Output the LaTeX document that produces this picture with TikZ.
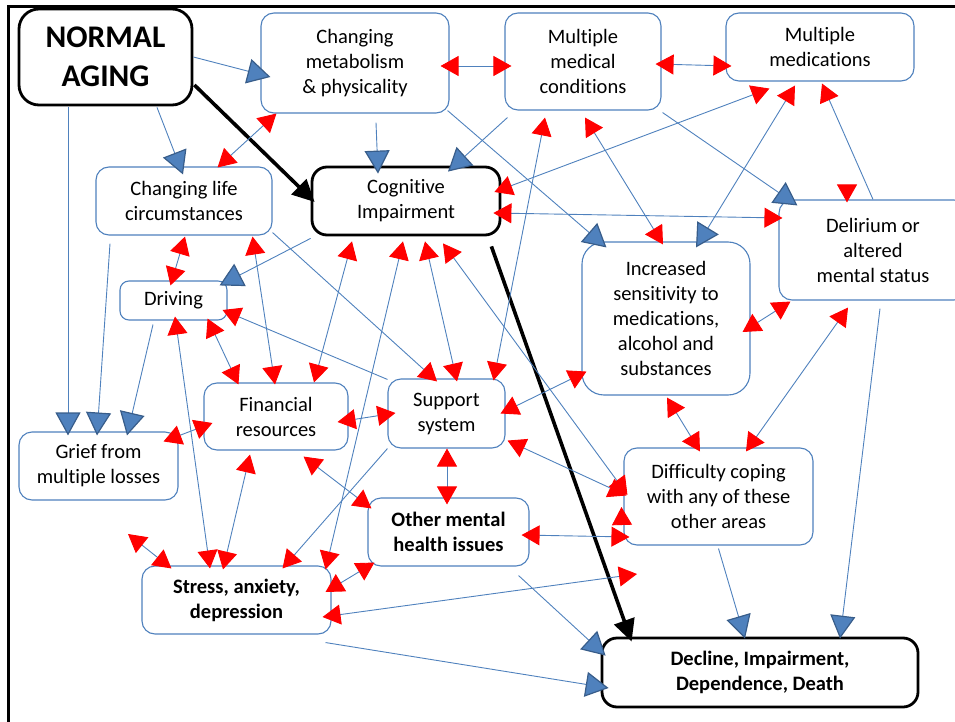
\documentclass[tikz,border=0pt]{standalone}
\usepackage{fontspec}
\setmainfont{Carlito}[Ligatures=NoCommon]
\usetikzlibrary{arrows.meta}
\definecolor{edgeblue}{HTML}{4F81BD}
\definecolor{tipedge}{HTML}{385D8A}
\newcommand\boxfont{\fontsize{20.5pt}{25pt}\selectfont}
\newcommand\agingfont{\fontsize{31.5pt}{39pt}\selectfont\bfseries}
\tikzset{
  factor/.style={draw=edgeblue, line width=1.1pt, rounded corners=13pt, fill=white,
    align=center, inner sep=0pt, font=\boxfont},
  keyfactor/.style={draw=black, line width=2.8pt, rounded corners=15pt, fill=white,
    align=center, inner sep=0pt, font=\boxfont},
  conn/.style={draw=edgeblue, line width=0.9pt},
  heavy/.style={draw=black, line width=3.6pt},
  redhead/.tip={Triangle[length=18pt,width=20pt,color=red]},
  bluehead/.tip={Triangle[length=23pt,width=25pt,fill=edgeblue,color=tipedge,line width=1.2pt]},
  blackhead/.tip={Triangle[length=22pt,width=21pt,color=black]}
}
\begin{document}
\begin{tikzpicture}[x=1pt,y=-1pt]
\useasboundingbox (0,0) rectangle (955,722);
\clip (0,0) rectangle (955,722);
% frame
\draw[line width=3pt] (8,722) -- (8,6.5) -- (955,6.5);

% boxes
\node[keyfactor, minimum width=173pt, minimum height=96pt, rounded corners=20pt, font=\agingfont] (aging) at (105.5,57) {NORMAL\\AGING};
\node[factor, minimum width=188pt, minimum height=100pt] (metab) at (355,63) {Changing\\metabolism\\\& physicality};
\node[factor, minimum width=156pt, minimum height=97pt] (medcond) at (583,61.5) {Multiple\\medical\\conditions};
\node[factor, minimum width=188pt, minimum height=68pt] (meds) at (820,47) {Multiple\\medications};
\node[factor, minimum width=176pt, minimum height=68pt] (life) at (184,201) {Changing life\\circumstances};
\node[keyfactor, minimum width=188pt, minimum height=68pt] (cog) at (406,201) {Cognitive\\Impairment};
\node[factor, minimum width=188pt, minimum height=100pt] (delir) at (873,250) {Delirium or\\altered\\mental status};
\node[factor, minimum width=107pt, minimum height=39pt, rounded corners=9pt] (drive) at (173.5,300.5) {Driving};
\node[factor, minimum width=168pt, minimum height=153pt, rounded corners=22pt] (sens) at (666,318.5) {Increased\\sensitivity to\\medications,\\alcohol and\\substances};
\node[factor, minimum width=144pt, minimum height=67pt] (fin) at (276,416.5) {Financial\\resources};
\node[factor, minimum width=117pt, minimum height=69pt] (support) at (446.5,413.5) {Support\\system};
\node[factor, minimum width=159pt, minimum height=68pt] (grief) at (98.5,466) {Grief from\\multiple losses};
\node[factor, minimum width=161pt, minimum height=68pt, font=\boxfont\bfseries] (other) at (448.5,532) {Other mental\\health issues};
\node[factor, minimum width=189pt, minimum height=97pt] (coping) at (718.5,496.5) {Difficulty coping\\with any of these\\other areas};
\node[factor, minimum width=189pt, minimum height=68pt, font=\boxfont\bfseries] (stress) at (236.5,600) {Stress, anxiety,\\depression};
\node[keyfactor, minimum width=316pt, minimum height=69pt, font=\boxfont\bfseries] (decline) at (760,672.5) {Decline, Impairment,\\Dependence, Death};

\coordinate (freeA) at (637,574);
\coordinate (freeB) at (128,534);
\coordinate (freeC) at (847,186);
\coordinate (freeD) at (622,525);

% blue links
\draw[conn,-bluehead] (aging.east) -- ([shift={(10,14)}]metab.west);
\draw[conn,-bluehead] ([shift={(51.5,1)}]aging.south) -- ([shift={(-1,8)}]life.north);
\draw[conn,-bluehead] ([shift={(-37.5,1)}]aging.south) -- ([shift={(-30.5,4)}]grief.north);
\draw[conn,-bluehead] ([shift={(-74,8)}]life.south) -- ([shift={(-1.5,4)}]grief.north);
\draw[conn,-bluehead] ([shift={(-20.5,4)}]drive.south) -- ([shift={(28.5,4)}]grief.north);
\draw[conn,-bluehead] ([shift={(21,9)}]metab.south) -- ([shift={(-28,8)}]cog.north);
\draw[conn,-bluehead] ([shift={(3,7)}]medcond.south west) -- ([shift={(42,6)}]cog.north);
\draw[conn,-bluehead] ([shift={(-2,-3)}]metab.south east) -- ([shift={(25,6)}]sens.north west);
\draw[conn,-bluehead] ([shift={(0,2)}]cog.south west) -- ([shift={(-8,5)}]drive.north east);
\draw[conn,-bluehead] ([shift={(1,2)}]medcond.south east) -- ([shift={(19,6)}]delir.north west);
\draw[conn,redhead-bluehead] ([shift={(-25,4)}]meds.south) -- ([shift={(30,6)}]sens.north);
\draw[conn,-bluehead] ([shift={(7,8)}]delir.south) -- ([shift={(80,2)}]decline.north);
\draw[conn,-bluehead] ([shift={(0,3)}]coping.south) -- ([shift={(-15,2)}]decline.north);
\draw[conn,-bluehead] ([shift={(-11,9)}]other.south east) -- ([shift={(5,19)}]decline.north west);
\draw[conn,-bluehead] ([shift={(-6,8)}]stress.south east) -- ([shift={(8,15.5)}]decline.west);

% main path
\draw[heavy,-blackhead] ([shift={(1,28)}]aging.east) -- ([shift={(4,1)}]cog.west);
\draw[heavy,-blackhead] ([shift={(-10,10)}]cog.south east) -- ([shift={(31,5)}]decline.north west);

% red links, both ways
\draw[conn,redhead-redhead] ([shift={(16,0)}]metab.south west) -- ([shift={(-55,1)}]life.north east);
\draw[conn,redhead-redhead] ([shift={(-9,3)}]metab.east) -- ([shift={(7,4.5)}]medcond.west);
\draw[conn,redhead-redhead] ([shift={(-6,2.5)}]medcond.east) -- ([shift={(6,19)}]meds.west);
\draw[conn,redhead-redhead] ([shift={(-7,-9)}]cog.east) -- ([shift={(44,7)}]meds.south west);
\draw[conn,redhead-redhead] ([shift={(-8,12)}]cog.east) -- ([shift={(4,-32)}]delir.west);
\draw[conn,redhead-redhead] ([shift={(-38,7)}]medcond.south) -- ([shift={(-12,2)}]support.north east);
\draw[conn,redhead-redhead] ([shift={(2,7)}]medcond.south) -- ([shift={(-3,3)}]sens.north);
\draw[conn,redhead-redhead] ([shift={(-54,5)}]cog.south) -- ([shift={(38,0)}]fin.north);
\draw[conn,redhead-redhead] ([shift={(-3,5)}]cog.south) -- ([shift={(-6,4)}]stress.north east);
\draw[conn,redhead-redhead] ([shift={(19,5)}]cog.south) -- ([shift={(10.5,3)}]support.north);
\draw[conn,redhead-redhead] ([shift={(37,7)}]cog.south) -- ([shift={(4,-1.5)}]coping.west);
\draw[conn,redhead-redhead] ([shift={(2,-8)}]support.south east) -- ([shift={(3,-1)}]coping.west);
\draw[conn,redhead-redhead] ([shift={(-5,0)}]support.east) -- ([shift={(5,-24)}]sens.south west);
\draw[conn,redhead-redhead] ([shift={(-11,5.5)}]fin.east) -- ([shift={(8,-0.5)}]support.west);
\draw[conn,redhead-redhead] ([shift={(-15,10)}]grief.north east) -- ([shift={(9,6.5)}]fin.west);
\draw[conn,redhead-redhead] ([shift={(1,1)}]life.south) -- ([shift={(-3,5)}]drive.north);
\draw[conn,redhead-redhead] ([shift={(-20,1)}]life.south east) -- ([shift={(-1,2)}]fin.north);
\draw[conn,redhead-redhead] ([shift={(1.5,-4)}]drive.south) -- ([shift={(-26.5,3)}]stress.north);
\draw[conn,redhead-redhead] ([shift={(-20,-2)}]drive.south east) -- ([shift={(35,2)}]fin.north west);
\draw[conn,redhead-redhead] ([shift={(-26,4)}]fin.south) -- ([shift={(-13.5,4)}]stress.north);
\draw[conn,redhead-redhead] ([shift={(-45,6)}]fin.south east) -- ([shift={(4,11)}]other.north west);
\draw[conn,redhead-redhead] ([shift={(0.5,0)}]support.south) -- ([shift={(-1.5,7)}]other.north);
\draw[conn,redhead-redhead] ([shift={(-8,3)}]other.east) -- ([shift={(6,40.5)}]coping.west);
\draw[conn,redhead-redhead] ([shift={(-6,-8)}]stress.east) -- ([shift={(7,-4)}]other.south west);
\draw[conn,redhead-redhead] ([shift={(-9,17)}]stress.east) -- (freeA);
\draw[conn,redhead-redhead] (freeB) -- ([shift={(30,3)}]stress.north west);
\draw[conn,redhead-redhead] ([shift={(-8,13.5)}]sens.east) -- ([shift={(12,1)}]delir.south west);
\draw[conn,redhead-redhead] ([shift={(-25,7)}]delir.south) -- ([shift={(27.5,4)}]coping.north);
\draw[conn,redhead-redhead] ([shift={(1,2)}]sens.south) -- ([shift={(-18.5,4)}]coping.north);

% red links, one way
\draw[conn,-redhead] (delir.north) -- ([shift={(2,2)}]meds.south);
\draw[conn,-redhead] ([shift={(0,1)}]support.north west) -- ([shift={(-5,9.5)}]drive.east);
\draw[conn,-redhead] ([shift={(0,-3)}]life.south east) -- ([shift={(-9.5,3)}]support.north);
\draw[conn,-redhead] (support.south west) -- ([shift={(46,3)}]stress.north);
\draw[conn,-redhead] (freeC) -- ([shift={(-26,3)}]delir.north);
\draw[conn,-redhead] (freeD) -- ([shift={(-2,10.5)}]coping.west);
\end{tikzpicture}
\end{document}
